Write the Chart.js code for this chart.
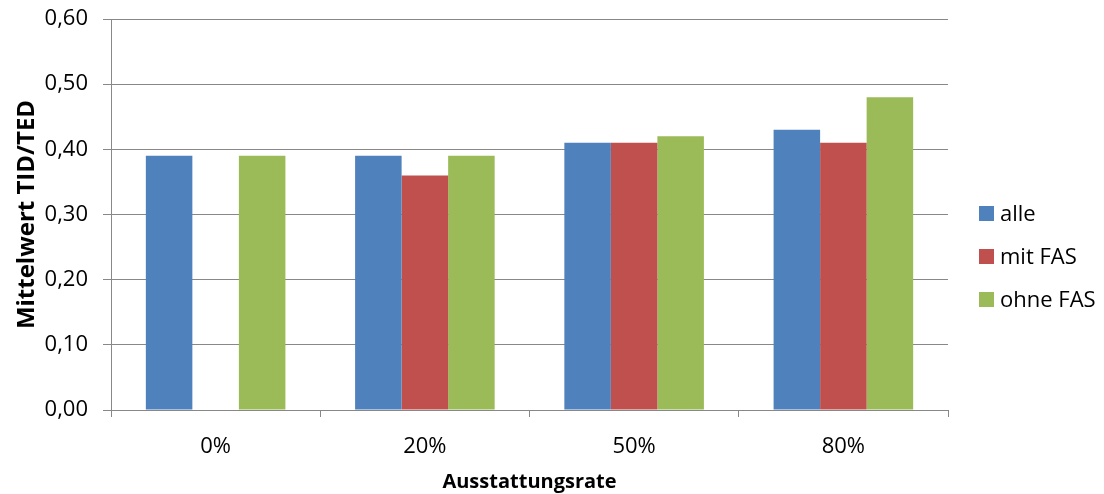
<!DOCTYPE html>
<html>
<head>
<meta charset="utf-8">
<script src="https://cdn.jsdelivr.net/npm/chart.js@4.4.1/dist/chart.umd.min.js"></script>
<style>
  html, body { margin: 0; padding: 0; background: #fff; }
  #wrap { width: 1104px; height: 494px; position: relative; }
</style>
</head>
<body>
<div id="wrap"><canvas id="c" width="1104" height="494"></canvas></div>
<script>
// Mittelwert TID/TED je Ausstattungsrate
const categories = ['0%', '20%', '50%', '80%'];
const seriesNames = ['alle', 'mit FAS', 'ohne FAS'];
const alle = [0.39, 0.39, 0.41, 0.43];
const mitFAS = [null, 0.36, 0.41, 0.41];
const ohneFAS = [0.39, 0.39, 0.42, 0.48];
const seriesColors = ['#4F81BD', '#C0504D', '#9BBB59'];

const FONT = "'Open Sans', 'DejaVu Sans', sans-serif";
const AXIS_GREY = '#888888';

// Legend drawn to the right of the plot: square swatch + label per series
const sideLegend = {
  id: 'sideLegend',
  afterDraw(chart, args, opts) {
    const ctx = chart.ctx;
    const area = chart.chartArea;
    const x = area.right + opts.offsetX;
    ctx.save();
    ctx.font = opts.fontSize + 'px ' + FONT;
    ctx.textBaseline = 'middle';
    ctx.textAlign = 'left';
    chart.data.datasets.forEach((ds, i) => {
      const cy = opts.firstY + i * opts.spacing;
      ctx.fillStyle = ds.backgroundColor;
      ctx.fillRect(x, cy - opts.box / 2, opts.box, opts.box);
      ctx.fillStyle = '#000';
      ctx.fillText(ds.label, x + opts.box + opts.gap, cy + 1);
    });
    ctx.restore();
  }
};

new Chart(document.getElementById('c'), {
  type: 'bar',
  data: {
    labels: categories,
    datasets: [
      { label: seriesNames[0], data: alle, backgroundColor: seriesColors[0] },
      { label: seriesNames[1], data: mitFAS, backgroundColor: seriesColors[1] },
      { label: seriesNames[2], data: ohneFAS, backgroundColor: seriesColors[2] }
    ]
  },
  options: {
    responsive: false,
    animation: false,
    devicePixelRatio: 1,
    layout: { padding: { top: 19, right: 156, bottom: 0, left: 0 } },
    datasets: {
      bar: { categoryPercentage: 0.667, barPercentage: 1.0, borderWidth: 0 }
    },
    plugins: {
      legend: { display: false },
      tooltip: { enabled: false },
      sideLegend: { offsetX: 31, firstY: 213.5, spacing: 43, box: 15, gap: 6, fontSize: 22 }
    },
    scales: {
      x: {
        offset: true,
        grid: {
          offset: true,
          drawOnChartArea: false,
          drawTicks: true,
          tickLength: 7,
          color: AXIS_GREY,
          lineWidth: 1
        },
        border: { display: true, color: AXIS_GREY, width: 1 },
        ticks: { color: '#000', font: { family: FONT, size: 22 }, padding: 17 },
        title: {
          display: true,
          text: 'Ausstattungsrate',
          color: '#000',
          font: { family: FONT, size: 20, weight: 'bold' },
          padding: { top: 0, bottom: 0 }
        },
        afterFit(scale) { scale.height = 84; }
      },
      y: {
        min: 0,
        max: 0.6,
        ticks: {
          stepSize: 0.1,
          color: '#000',
          font: { family: FONT, size: 22 },
          padding: 15,
          callback: (v) => Number(v).toFixed(2).replace('.', ',')
        },
        grid: { color: AXIS_GREY, lineWidth: 1, tickLength: 8, drawTicks: true },
        border: { display: true, color: AXIS_GREY, width: 1 },
        title: {
          display: true,
          text: 'Mittelwert TID/TED',
          color: '#000',
          font: { family: FONT, size: 24, weight: 'bold' },
          padding: { top: 13, bottom: 0 }
        },
        afterFit(scale) {
          scale.width = 111;
          scale.paddingTop = 0;
          scale.paddingBottom = 0;
        }
      }
    }
  },
  plugins: [sideLegend]
});
</script>
</body>
</html>
